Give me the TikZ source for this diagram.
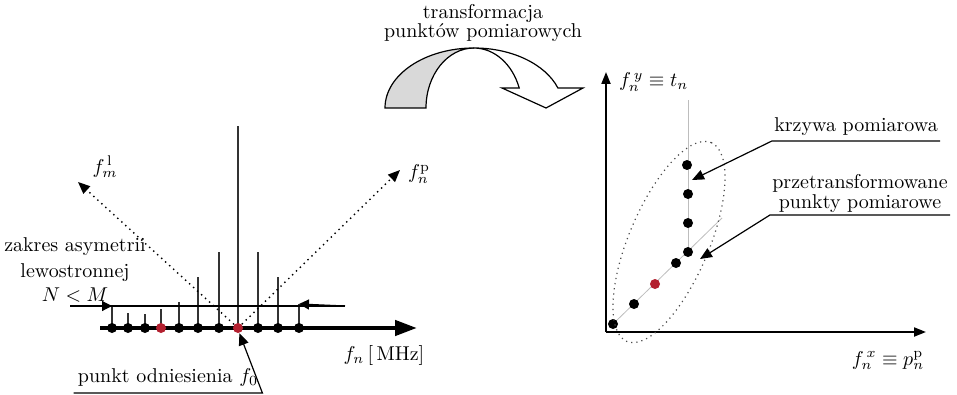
\documentclass[tikz,border=0pt]{standalone}
\usepackage{amsmath,amssymb}
\usetikzlibrary{positioning,calc,arrows.meta,backgrounds}
\definecolor{refred}{HTML}{B3202F}
\definecolor{guidegray}{HTML}{BDBDBD}
\definecolor{bandgray}{HTML}{D9D9D9}
\tikzset{
  axis/.style={line width=2.2pt,-{Triangle[length=11pt,width=7.5pt]}},
  thinaxis/.style={line width=1pt,-{Triangle[length=6pt,width=4.5pt]}},
  stem/.style={line width=0.75pt,black!80},
  pt/.style={circle,fill=black,minimum size=5pt,inner sep=0},
  guide/.style={line width=0.4pt,guidegray},
  hull/.style={dotted,line width=0.6pt,black!70},
  proj/.style={dotted,line width=0.7pt,-{Triangle[length=6pt,width=5pt]}},
  rangearrow/.style={line width=0.6pt,-{Triangle[length=5pt,width=5pt]}},
  callout/.style={line width=0.6pt,-{Triangle[length=6pt,width=5pt]}},
  band/.style={line width=0.6pt,draw=black},
  lab/.style={font=\normalsize},
  note/.style={lab,inner xsep=1pt},
}

\begin{document}
\begin{tikzpicture}[x=0.5pt,y=-0.5pt]
  \useasboundingbox (0,0) rectangle (957,395);
  % curved arrow: grey rising half, white falling half with the head
  \filldraw[band,fill=bandgray] (385,108)
    arc[start angle=180,end angle=270,x radius=89,y radius=60]
    arc[start angle=270,end angle=180,x radius=48,y radius=60] -- cycle;
  \filldraw[band,fill=white] (474,48)
    arc[start angle=270,end angle=340.5,x radius=89,y radius=60]
    -- (583,88) -- (546,108) -- (502,88) -- (519.2,88)
    arc[start angle=340.5,end angle=270,x radius=48,y radius=60] -- cycle;
  \node[lab,align=center] (trans) at (483,23) {transformacja\\[-2.5pt]punktów pomiarowych};

  % left: spectrum on the frequency axis
  \coordinate (ax0) at (100,328);
  \coordinate (ax1) at (417,328);
  \draw[axis] (ax0) -- (ax1);
  \foreach \i/\x/\h/\c in {1/112/306/black,2/128/313/black,3/145/314/black,4/161/309/refred,
                           5/179/302/black,6/198/277/black,7/219/252/black,8/238/126/refred,
                           9/258/252/black,10/278/277/black,11/299/304/black}{
    \coordinate (s\i) at (\x,\h);
    \draw[stem] (\x,328) -- (s\i);
    \node[pt,fill=\c] (d\i) at (\x,328) {};
  }
  % range of the left asymmetry
  \coordinate (rl) at (70,306);
  \coordinate (rr) at (345,306);
  \draw[line width=0.6pt] (rl) -- (rr);
  \draw[rangearrow] (rl) -- (s1);
  \draw[rangearrow] (rr) -- (s11);
  \node[lab,align=center] (asym) at (75,260) {zakres asymetrii\\[1pt]lewostronnej};
  \node[lab,anchor=base] (nm) at (75,301.5) {$N<M$};
  % projection directions
  \coordinate (ml) at (78,182);
  \coordinate (np) at (400,170);
  \draw[proj] (d8) -- (ml);
  \draw[proj] (d8) -- (np);
  \node[lab] (mllab) at (105,167) {$f_m^{\,\mathrm{l}}$};
  \node[lab] (nplab) at (419,174) {$f_n^{\mathrm{p}}$};
  \node[lab,anchor=base] (flab) at (384,360) {$f_n\,[\,\mathrm{MHz}]$};
  \node[lab,anchor=south,inner xsep=2pt] (ref) at (168,393) {punkt odniesienia $f_0$};
  \draw[callout] (ref.south west) -- (ref.south east) -- (d8.-75);

  % right: transformed points
  \coordinate (O) at (606,332);
  \coordinate (yt) at (606,72);
  \coordinate (xt) at (926,332);
  \draw[thinaxis] (O) -- (yt);
  \draw[thinaxis] (O) -- (xt);
  \node[lab,anchor=base west] (ylab) at (612,86.5) {$f_n^{\,y}\equiv t_n$};
  \node[lab,anchor=base] (xlab) at (888,365) {$f_n^{\,x}\equiv p_n^{\mathrm{p}}$};
  \foreach \i/\x/\y/\c in {1/613/324/black,2/634/304/black,3/655/284/refred,4/676/263/black,
                           5/688/252/black,6/688/223/black,7/688/194/black,8/687/165/black}
    \node[pt,fill=\c] (r\i) at (\x,\y) {};
  \coordinate (g1) at (722,218);
  \coordinate (g2) at (688,100);
  \begin{scope}[on background layer]
    \draw[guide] (r1.center) -- (g1);
    \draw[guide] (r5.center) -- (g2);
  \end{scope}
  \coordinate (hc) at (669,242);
  \draw[hull,rotate around={67:(hc)}] (hc) ellipse[x radius=108,y radius=40];
  % callouts
  \node[note,anchor=south,inner ysep=2.5pt] (curve) at (856,141) {krzywa pomiarowa};
  \coordinate (curvetip) at (692,180);
  \draw[callout] (curve.south east) -- (curve.south west) -- (curvetip);
  \node[note,anchor=south,align=center,inner ysep=1pt] (pts) at (860,215)
    {przetransformowane\\[-2pt]punkty pomiarowe};
  \coordinate (ptstip) at (700,259);
  \draw[callout] (pts.south east) -- (pts.south west) -- (ptstip);
\end{tikzpicture}
\end{document}
